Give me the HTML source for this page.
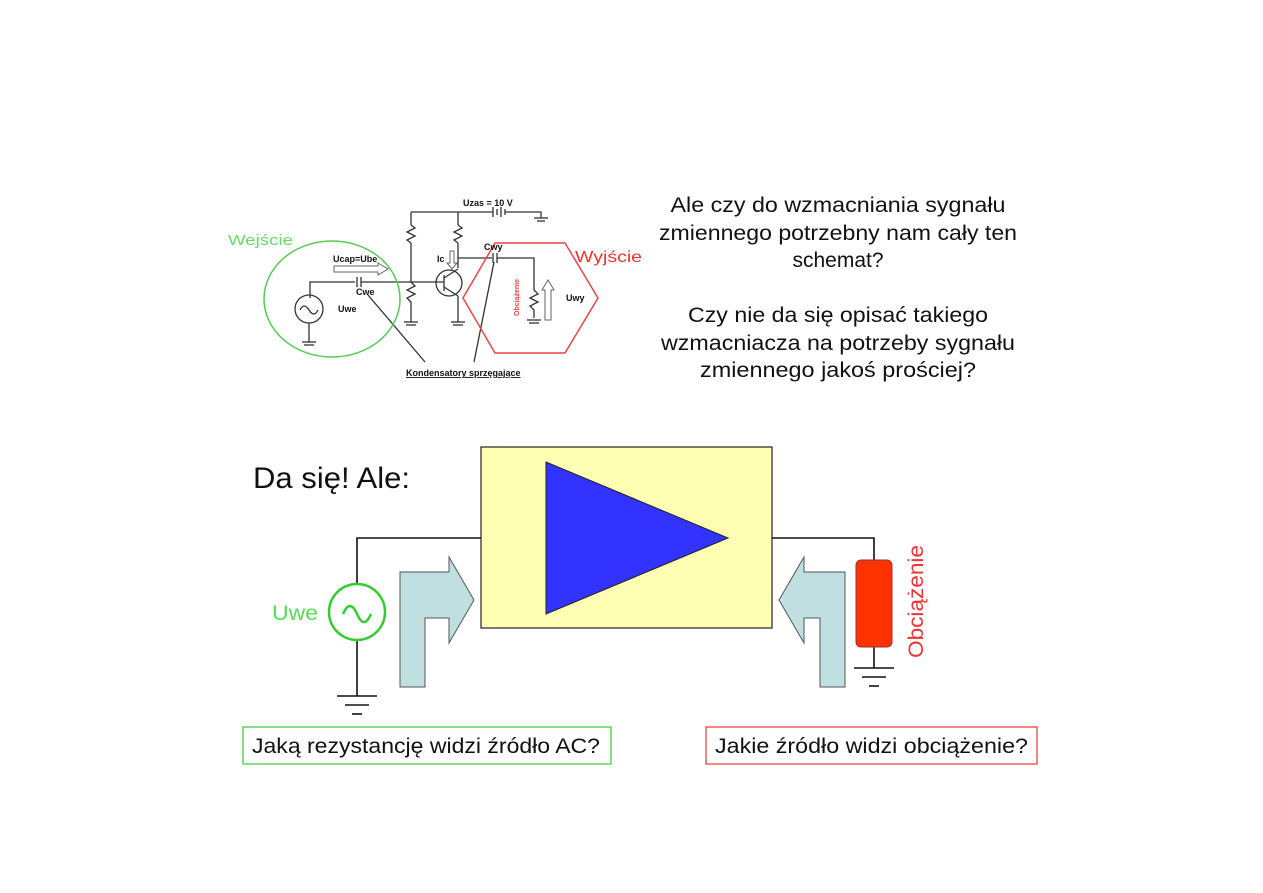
<!DOCTYPE html>
<html><head><meta charset="utf-8"><style>
html,body{margin:0;padding:0;background:#fff;}
svg{display:block;}
text{font-family:"Liberation Sans",Arial,sans-serif;}
</style></head><body>
<svg width="1263" height="893" viewBox="0 0 1263 893" xmlns="http://www.w3.org/2000/svg">
<rect width="1263" height="893" fill="#fff"/>

<g stroke="#333" stroke-width="1.3" fill="none">
  <polyline points="411,212 458,212 493,212"/>
  <line x1="493" y1="207" x2="493" y2="217"/><line x1="497" y1="209" x2="497" y2="215"/>
  <line x1="501" y1="207" x2="501" y2="217"/><line x1="505" y1="209" x2="505" y2="215"/>
  <polyline points="505,212 541,212 541,218"/>
  <line x1="534" y1="218" x2="548" y2="218"/><line x1="537" y1="221" x2="545" y2="221"/>
  <line x1="411" y1="212" x2="411" y2="225"/>
  <polyline points="411,225 415,228 407,232 415,236 407,240 411,243"/>
  <line x1="411" y1="243" x2="411" y2="282"/>
  <polyline points="411,282 415,286 407,290 415,294 407,298 411,302 411,304"/>
  <line x1="411" y1="304" x2="411" y2="322"/>
  <line x1="404" y1="322" x2="418" y2="322"/><line x1="406" y1="325" x2="416" y2="325"/>
  <line x1="458" y1="212" x2="458" y2="225"/>
  <polyline points="458,225 462,228 454,232 462,236 454,240 458,243"/>
  <line x1="458" y1="243" x2="458" y2="268"/>
  <circle cx="449" cy="283" r="13"/>
  <line x1="444" y1="275" x2="444" y2="291"/>
  <line x1="411" y1="282" x2="444" y2="282"/>
  <line x1="444" y1="278" x2="458" y2="269"/>
  <line x1="444" y1="287" x2="458" y2="296"/>
  <line x1="458" y1="296" x2="458" y2="322"/>
  <line x1="451" y1="322" x2="465" y2="322"/><line x1="453" y1="325" x2="463" y2="325"/>
  <polyline points="310,298 310,282 355,282"/>
  <line x1="357" y1="277" x2="357" y2="287"/><line x1="361" y1="277" x2="361" y2="287"/>
  <line x1="361" y1="282" x2="411" y2="282"/>
  <circle cx="309" cy="309" r="14"/>
  <path d="M300,310 q4,-8 9,0 q5,8 9,0"/>
  <line x1="309" y1="323" x2="309" y2="342"/>
  <line x1="302" y1="342" x2="316" y2="342"/><line x1="304" y1="345" x2="314" y2="345"/>
  <line x1="458" y1="258" x2="492" y2="258"/>
  <line x1="493" y1="253" x2="493" y2="263"/><line x1="497" y1="253" x2="497" y2="263"/>
  <polyline points="497,258 534,258 534,290"/>
  <polyline points="534,290 538,294 530,298 538,302 530,306 534,310 534,318"/>
  <line x1="527" y1="320" x2="541" y2="320"/><line x1="529" y1="323" x2="539" y2="323"/>
  <line x1="368" y1="295" x2="425" y2="362"/>
  <line x1="494" y1="262" x2="474" y2="362"/>
</g>
<path d="M334,266 h44 v-3 l10,6 l-10,6 v-3 h-44z" fill="#fff" stroke="#666" stroke-width="1"/>
<path d="M545,320 v-30 h-3 l6,-10 l6,10 h-3 v30z" fill="#fff" stroke="#666" stroke-width="1"/>
<path d="M450,251 v12 h-3 l5,6 l5,-6 h-3 v-12z" fill="#fff" stroke="#666" stroke-width="1"/>
<ellipse cx="332" cy="299" rx="68" ry="58" fill="none" stroke="#5c5" stroke-width="1.5"/>
<polygon points="463,298 495,243 565,243 598,298 565,353 495,353" fill="none" stroke="#e44" stroke-width="1.5"/>
<g font-weight="bold" font-size="9" fill="#111">
  <text x="463" y="206">Uzas = 10 V</text>
  <text x="333" y="262">Ucap=Ube</text>
  <text x="356" y="295">Cwe</text>
  <text x="338" y="312">Uwe</text>
  <text x="437" y="262">Ic</text>
  <text x="484" y="250">Cwy</text>
  <text x="566" y="301">Uwy</text>
  <text x="406" y="376" text-decoration="underline">Kondensatory sprzęgające</text>
</g>
<text x="519" y="316" font-size="7" font-weight="bold" fill="#e44" transform="rotate(-90 519 316)">Obciążenie</text>
<text x="228" y="245" font-size="15" fill="#6d6" textLength="65" lengthAdjust="spacingAndGlyphs">Wejście</text>
<text x="575" y="262" font-size="16" fill="#e33" textLength="67" lengthAdjust="spacingAndGlyphs">Wyjście</text>

<g font-size="21" fill="#111" text-anchor="middle">
  <text x="838" y="212" textLength="335" lengthAdjust="spacingAndGlyphs">Ale czy do wzmacniania sygnału</text>
  <text x="838" y="240" textLength="358" lengthAdjust="spacingAndGlyphs">zmiennego potrzebny nam cały ten</text>
  <text x="838" y="267">schemat?</text>
  <text x="838" y="322" textLength="300" lengthAdjust="spacingAndGlyphs">Czy nie da się opisać takiego</text>
  <text x="838" y="350" textLength="354" lengthAdjust="spacingAndGlyphs">wzmacniacza na potrzeby sygnału</text>
  <text x="838" y="377" textLength="276" lengthAdjust="spacingAndGlyphs">zmiennego jakoś prościej?</text>
</g>

<text x="253" y="488" font-size="30" fill="#111" textLength="157" lengthAdjust="spacingAndGlyphs">Da się! Ale:</text>
<rect x="481" y="447" width="291" height="181" fill="#ffffb4" stroke="#222" stroke-width="1.2"/>
<polygon points="546,462 546,614 728,538" fill="#3333ff" stroke="#222" stroke-width="1"/>
<g stroke="#111" stroke-width="1.6" fill="none">
  <polyline points="481,538 357,538 357,584"/>
  <line x1="357" y1="640" x2="357" y2="696"/>
  <line x1="337" y1="696" x2="377" y2="696"/>
  <line x1="345" y1="705" x2="369" y2="705"/>
  <line x1="352" y1="714" x2="362" y2="714"/>
  <polyline points="772,538 874,538 874,560"/>
  <line x1="874" y1="647" x2="874" y2="668"/>
  <line x1="854" y1="668" x2="894" y2="668"/>
  <line x1="862" y1="677" x2="886" y2="677"/>
  <line x1="869" y1="686" x2="879" y2="686"/>
</g>
<circle cx="357" cy="612" r="28" fill="none" stroke="#3c3" stroke-width="2.5"/>
<path d="M343,614 q7,-16 14,0 q7,16 14,0" fill="none" stroke="#3c3" stroke-width="2.5"/>
<text x="272" y="620" font-size="21" fill="#5d5" textLength="46" lengthAdjust="spacingAndGlyphs">Uwe</text>
<rect x="856" y="560" width="36" height="87" rx="5" fill="#ff3300" stroke="#933" stroke-width="1"/>
<text x="923" y="658" font-size="21" fill="#e33" transform="rotate(-90 923 658)" textLength="113" lengthAdjust="spacingAndGlyphs">Obciążenie</text>
<path d="M400,687 V572 H449 V557 L474,600 L449,643 V618 H425 V687 Z" fill="#bfdfe0" stroke="#555" stroke-width="1"/>
<path d="M820,687 V618 H804 V643 L779,600 L804,557 V572 H845 V687 Z" fill="#bfdfe0" stroke="#555" stroke-width="1"/>
<rect x="243" y="727" width="368" height="37" fill="#fff" stroke="#3c3" stroke-width="1.2"/>
<text x="252" y="753" font-size="21" fill="#111" textLength="348" lengthAdjust="spacingAndGlyphs">Jaką rezystancję widzi źródło AC?</text>
<rect x="706" y="727" width="331" height="37" fill="#fff" stroke="#e33" stroke-width="1.2"/>
<text x="715" y="753" font-size="21" fill="#111" textLength="313" lengthAdjust="spacingAndGlyphs">Jakie źródło widzi obciążenie?</text>
</svg>
</body></html>
